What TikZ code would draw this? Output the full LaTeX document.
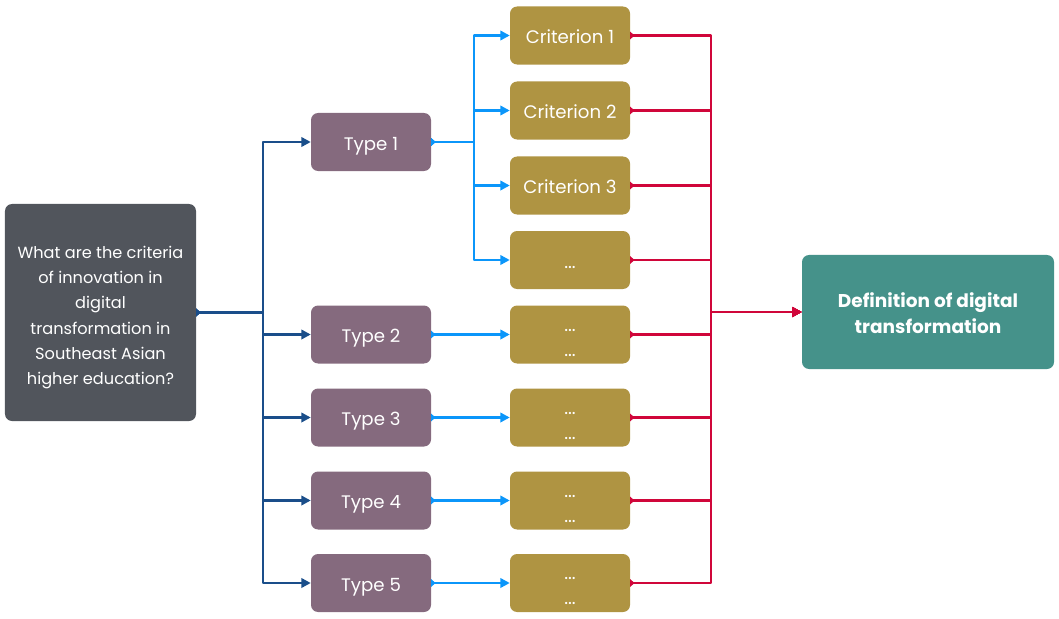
\documentclass[tikz,border=0pt]{standalone}
\usepackage{fontspec}
\setmainfont{Poppins}
\usetikzlibrary{arrows.meta}
\usetikzlibrary{positioning}

\definecolor{qgray}{HTML}{51555C}
\definecolor{typepurple}{HTML}{856A7E}
\definecolor{critgold}{HTML}{AF9442}
\definecolor{defteal}{HTML}{45928A}
\definecolor{darkblue}{HTML}{1A4E8A}
\definecolor{lightblue}{HTML}{0B96FA}
\definecolor{linkred}{HTML}{D0063A}

\begin{document}
\begin{tikzpicture}[x=0.03cm, y=-0.03cm,
                    box/.style={rounded corners=6pt, text=white, align=center, inner sep=0pt,
                                font=\fontsize{15.5}{21.5}\selectfont},
                    type node/.style={box, fill=typepurple, minimum width=3.6cm, minimum height=1.74cm,
                                      text height=14pt, text depth=0pt},
                    crit node/.style={type node, fill=critgold},
                    more node/.style={box, fill=critgold, minimum width=3.6cm, minimum height=1.74cm},
                    link/.style={line width=2pt, line join=round,
                                 {Triangle[reversed,length=3.5pt,width=6.5pt]}-{Triangle[length=8pt,width=8pt]}},
                    dark link/.style={link, draw=darkblue},
                    light link/.style={link, draw=lightblue},
                    red link/.style={link, draw=linkred}]

  \useasboundingbox (0,0) rectangle (1059,619);

  \node[box, fill=qgray, minimum width=5.73cm, minimum height=6.51cm,
        font=\fontsize{13.8}{21.5}\selectfont] (q) at (100.5,312.5)
    {\rule{0pt}{19pt}What are the criteria\\of innovation in\\digital\\transformation in\\Southeast Asian\\higher education?};

  \node[box, fill=defteal, minimum width=7.56cm, minimum height=3.42cm,
        font=\fontsize{15.8}{22}\selectfont\bfseries] (def) at (928,312)
    {\rule{0pt}{14pt}Definition of digital\\transformation};

  \foreach \i/\y in {1/142,2/334.5,3/417.5,4/500.5,5/583}
    \node[type node] (t\i) at (371,\y) {Type \i};

  \foreach \i/\y in {1/35.5,2/110.5,3/185.5}
    \node[crit node] (c\i) at (570,\y) {Criterion \i};
  \node[crit node] (c4) at (570,260) {...};

  \foreach \i/\y in {2/334.5,3/417.5,4/500.5,5/583}
    \node[more node] (d\i) at (570,\y) {\rule{0pt}{16pt}...\\...};

  \foreach \i in {1,...,5}
    \draw[dark link] (q.east) -- ++(67,0) |- (t\i.west);

  \foreach \i in {1,...,4}
    \draw[light link] (t1.east) -- ++(43,0) |- (c\i.west);

  \foreach \i in {2,...,5}
    \draw[light link] (t\i.east) -- (d\i.west);

  \foreach \n in {c1,c2,c3,c4,d2,d3,d4,d5}
    \draw[red link] (\n.east) -- ++(81,0) |- (def.west);

\end{tikzpicture}
\end{document}
